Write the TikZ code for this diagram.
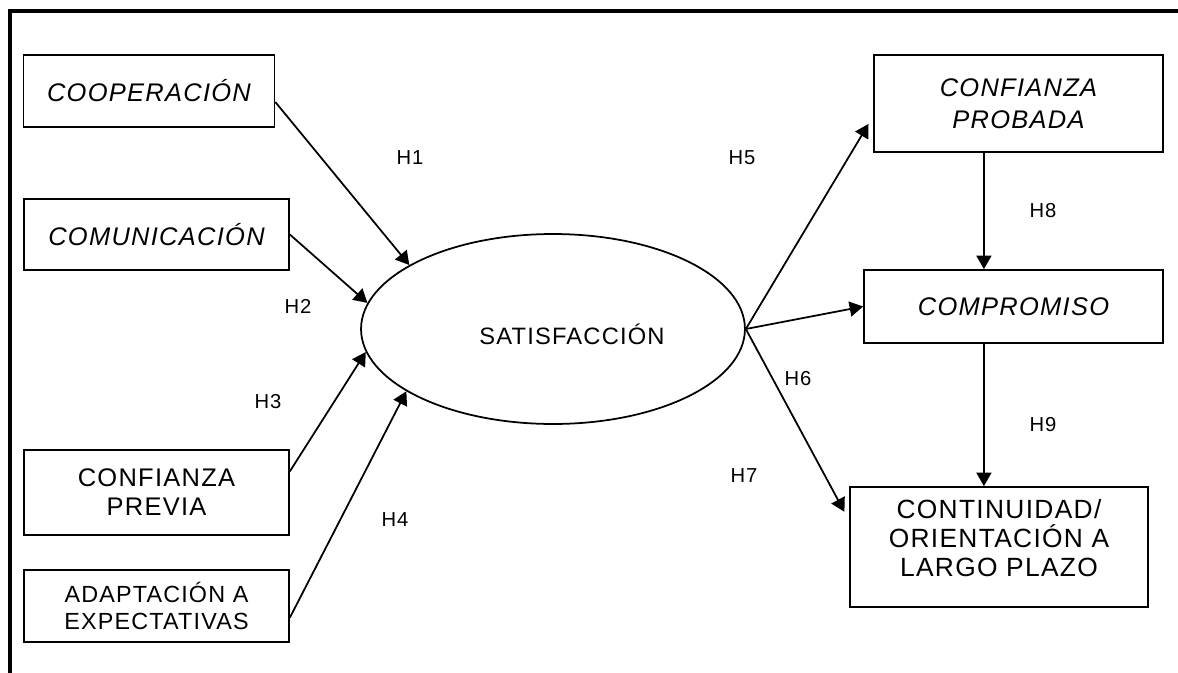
\documentclass[tikz,border=0pt]{standalone}
\usepackage{fontspec}
\setmainfont{Liberation Sans}[LetterSpace=5]
\usetikzlibrary{shapes,arrows.meta}

\begin{document}
\begin{tikzpicture}[x=0.02cm,y=-0.02cm,line width=1pt,
    box/.style={draw,align=center,inner sep=2pt,font=\fontsize{14.5}{16.5}\selectfont},
    hyp/.style={font=\fontsize{11.5}{13}\selectfont},
    arr/.style={-{Triangle[length=0.27cm,width=0.3cm]}}]
          \useasboundingbox (0,0) rectangle (1178,673);
          \draw[line width=2.2pt] (10,673) -- (10,11) -- (1178,11);
          \node[box,minimum width=5.02cm,minimum height=1.44cm] (cop) at (149,91) {\itshape COOPERACIÓN};
          \node[box,minimum width=5.3cm,minimum height=1.42cm] (com) at (156.5,234.5) {\itshape COMUNICACIÓN};
          \node[box,minimum width=5.3cm,minimum height=1.7cm] (prev) at (156.5,492.5) {CONFIANZA\\PREVIA};
          \node[box,minimum width=5.3cm,minimum height=1.44cm,font=\fontsize{13.3}{15}\selectfont] (adap) at (156.5,606) {ADAPTACIÓN A\\EXPECTATIVAS};
          \node[draw,ellipse,inner sep=0pt,minimum width=7.68cm,minimum height=3.8cm,
                label={[xshift=0.38cm,yshift=-0.1cm,font=\fontsize{13.5}{16}\selectfont]center:SATISFACCIÓN}] (sat) at (553,329) {};
          \node[box,minimum width=5.78cm,minimum height=1.94cm,font=\fontsize{14.5}{18.5}\selectfont] (prob) at (1018.5,103.5) {\itshape CONFIANZA\\\itshape PROBADA};
          \node[box,minimum width=5.98cm,minimum height=1.46cm] (comp) at (1013.5,306.5) {\itshape COMPROMISO};
          \node[box,minimum width=5.96cm,minimum height=2.4cm,font=\fontsize{15}{16.5}\selectfont] (cont) at (999,547) {CONTINUIDAD/\\ORIENTACIÓN A\\LARGO PLAZO\\[-6pt]\mbox{}};
          \node[hyp] (h1) at (410,158) {H1};
          \node[hyp] (h2) at (298,306) {H2};
          \node[hyp] (h3) at (268,402) {H3};
          \node[hyp] (h4) at (395,520) {H4};
          \node[hyp] (h5) at (742,158) {H5};
          \node[hyp] (h6) at (798,379) {H6};
          \node[hyp] (h7) at (744,476) {H7};
          \node[hyp] (h8) at (1043,211) {H8};
          \node[hyp] (h9) at (1043,425) {H9};
          \draw[arr] (cop.-5) -- (sat.156);
          \draw[arr] (com.east) -- (sat.172.5);
          \draw[arr] (prev.9) -- (sat.187);
          \draw[arr] (adap.-5) -- (sat.203);
          \draw[arr,shorten >=0.18cm] (sat.east) -- (prob.185);
          \draw[arr] (sat.east) -- (comp.west);
          \draw[arr,shorten >=0.2cm] (sat.east) -- (cont.170);
          \draw[arr] (prob.235) -- (prob.235 |- comp.north);
          \draw[arr] (prob.235 |- comp.south) -- (prob.235 |- cont.north);
        \end{tikzpicture}
\end{document}
